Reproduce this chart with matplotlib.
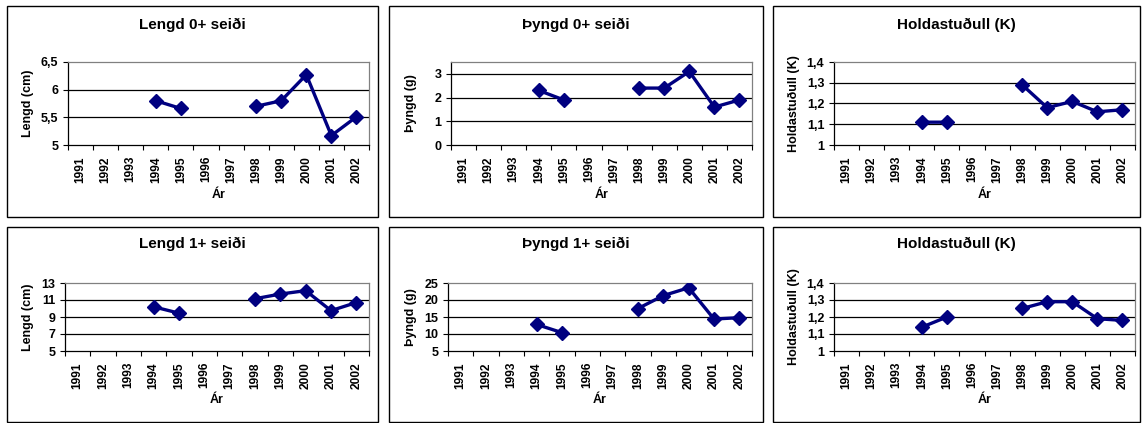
import numpy as np
import matplotlib
matplotlib.use("Agg")
import matplotlib.pyplot as plt
from matplotlib.patches import Rectangle
from matplotlib.ticker import FuncFormatter, FixedLocator

plt.rcParams['font.family'] = ['Liberation Sans', 'DejaVu Sans']
plt.rcParams['font.weight'] = 'bold'

years = ['1991', '1992', '1993', '1994', '1995', '1996', '1997', '1998', '1999', '2000', '2001', '2002']
nan = np.nan
lengd0 = [nan, nan, nan, 5.80, 5.66, nan, nan, 5.70, 5.80, 6.27, 5.17, 5.51]
thyngd0 = [nan, nan, nan, 2.30, 1.90, nan, nan, 2.40, 2.40, 3.10, 1.60, 1.90]
k0 = [nan, nan, nan, 1.11, 1.11, nan, nan, 1.29, 1.18, 1.21, 1.16, 1.17]
lengd1 = [nan, nan, nan, 10.2, 9.45, nan, nan, 11.15, 11.7, 12.1, 9.75, 10.7]
thyngd1 = [nan, nan, nan, 12.8, 10.4, nan, nan, 17.5, 21.3, 23.6, 14.4, 14.8]
k1 = [nan, nan, nan, 1.14, 1.20, nan, nan, 1.25, 1.29, 1.29, 1.19, 1.18]

titles = ['Lengd 0+ seiði', 'Þyngd 0+ seiði', 'Holdastuðull (K)',
          'Lengd 1+ seiði', 'Þyngd 1+ seiði', 'Holdastuðull (K)']
ylabels = ['Lengd (cm)', 'Þyngd (g)', 'Holdastuðull (K)',
           'Lengd (cm)', 'Þyngd (g)', 'Holdastuðull (K)']
series = [lengd0, thyngd0, k0, lengd1, thyngd1, k1]
yticks = [[5, 5.5, 6, 6.5], [0, 1, 2, 3], [1, 1.1, 1.2, 1.3, 1.4],
          [5, 7, 9, 11, 13], [5, 10, 15, 20, 25], [1, 1.1, 1.2, 1.3, 1.4]]
ylims = [(5, 6.5), (0, 3.5), (1, 1.4), (5, 13), (5, 25), (1, 1.4)]

W, H = 1142, 423
fig = plt.figure(figsize=(W / 100, H / 100), dpi=100)
fig.patch.set_facecolor('white')

# pixel layout: (panel box), (axes box)
panels = [(7, 6, 378, 217), (389, 6, 763, 217), (773, 6, 1140, 217),
          (7, 227, 378, 422), (389, 227, 763, 422), (773, 227, 1140, 422)]
axboxes = [(68, 62, 369, 145), (451, 62, 752, 145), (834, 62, 1135, 145),
           (65, 283, 369, 351), (448, 283, 752, 351), (834, 283, 1135, 351)]
title_y = [25, 25, 25, 244, 244, 244]
xlab_y = [195, 195, 195, 400, 400, 400]
ylab_x = [28, 411, 794, 28, 411, 794]


def fmt(v, pos):
    s = ('%g' % v)
    return s.replace('.', ',')


for i in range(6):
    px0, py0, px1, py1 = panels[i]
    fig.patches.append(Rectangle((px0 / W, 1 - py1 / H), (px1 - px0) / W, (py1 - py0) / H,
                                 transform=fig.transFigure, fill=False,
                                 edgecolor='black', linewidth=1.0))
    x0, y0, x1, y1 = axboxes[i]
    ax = fig.add_axes([x0 / W, 1 - y1 / H, (x1 - x0) / W, (y1 - y0) / H])
    xs = np.arange(len(years))
    ax.plot(xs, series[i], color='#000080', linewidth=2.4, marker='D',
            markersize=7, markeredgecolor='#000080', markerfacecolor='#000080',
            solid_joinstyle='miter', zorder=3)
    ax.set_xlim(-0.5, len(years) - 0.5)
    ax.set_ylim(*ylims[i])
    ax.set_yticks(yticks[i])
    ax.yaxis.set_major_formatter(FuncFormatter(fmt))
    for t in yticks[i][1:]:
        if t < ylims[i][1]:
            ax.axhline(t, color='black', linewidth=0.9, zorder=1)
    # category ticks between labels
    ax.xaxis.set_major_locator(FixedLocator(np.arange(-0.5, len(years), 1.0)))
    ax.xaxis.set_major_formatter(FuncFormatter(lambda v, p: ''))
    ax.xaxis.set_minor_locator(FixedLocator(xs))
    ax.set_xticklabels(years, minor=True, rotation=90, fontsize=8.6, fontweight='bold')
    ax.tick_params(axis='x', which='major', direction='out', length=3.5, width=0.8, color='black')
    ax.tick_params(axis='x', which='minor', length=0, pad=8)
    ax.tick_params(axis='y', direction='out', length=3.5, width=0.8, pad=3.5,
                   labelsize=9, color='black')
    for lbl in ax.get_yticklabels():
        lbl.set_fontweight('bold')
    ax.spines['left'].set_color('black')
    ax.spines['bottom'].set_color('black')
    ax.spines['top'].set_color('#808080')
    ax.spines['right'].set_color('#808080')
    for s in ax.spines.values():
        s.set_linewidth(0.9)
    ax.set_facecolor('white')

    fig.text(((px0 + px1) / 2) / W, 1 - title_y[i] / H, titles[i], ha='center', va='center',
             fontsize=11, fontweight='bold')
    fig.text(((x0 + x1) / 2) / W, 1 - xlab_y[i] / H, 'Ár', ha='center', va='center',
             fontsize=9, fontweight='bold')
    fig.text(ylab_x[i] / W, 1 - ((y0 + y1) / 2) / H, ylabels[i], ha='center', va='center',
             rotation=90, fontsize=9, fontweight='bold')

fig.savefig('out.png', dpi=100, facecolor='white')
